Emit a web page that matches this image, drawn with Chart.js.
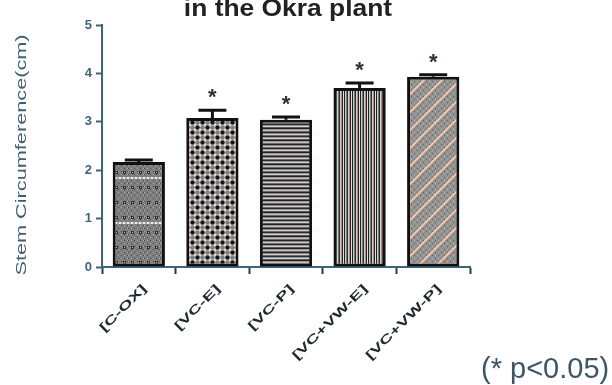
<!DOCTYPE html>
<html>
<head>
<meta charset="utf-8">
<script src="https://cdn.jsdelivr.net/npm/chart.js@4.4.0/dist/chart.umd.min.js"></script>
<style>
  html, body { margin: 0; padding: 0; background: #fff; }
  #wrap { width: 612px; height: 385px; }
</style>
</head>
<body>
<div id="wrap"><canvas id="stemChart" width="612" height="385"></canvas></div>
<script>
const categories = ['[C-OX]', '[VC-E]', '[VC-P]', '[VC+VW-E]', '[VC+VW-P]'];
const means = [2.17, 3.08, 3.04, 3.70, 3.93];
const errors = [0.04, 0.16, 0.06, 0.10, 0.04];
const marks = ['', '*', '*', '*', '*'];
const yTicks = [0, 1, 2, 3, 4, 5];

const titleText = 'in the Okra plant';
const yTitle = 'Stem Circumference(cm)';
const footnote = '(* p<0.05)';

const axisColor = '#3d6478';

// small helper: paint a tile and turn it into a repeating fill
function tile(w, h, paint) {
    const c = document.createElement('canvas');
    c.width = w;
    c.height = h;
    const g = c.getContext('2d');
    paint(g);
    return g.createPattern(c, 'repeat');
}

// grey dotted fill with a pale band every 45px
const fillDots = tile(16, 45, g => {
    g.fillStyle = '#7e7e7e';
    g.fillRect(0, 0, 16, 45);
    for (let y = 0; y < 45; y += 3) {
        for (let x = 0; x < 16; x += 3) {
            g.fillStyle = (x + y) % 2 ? '#4a4a4a' : '#a9a9a9';
            g.fillRect(x, y, 1, 1);
        }
    }
    [7, 22, 37].forEach(cy => {
        [4, 12].forEach(cx => {
            g.fillStyle = '#2e2e2e';
            g.fillRect(cx - 1, cy - 1, 3, 3);
            g.fillStyle = '#d9c2b6';
            g.fillRect(cx, cy, 1, 1);
        });
    });
    g.fillStyle = '#f1ece8';
    g.fillRect(0, 42, 16, 2);
    g.fillStyle = '#a9a9a9';
    for (let x = 1; x < 16; x += 4) g.fillRect(x, 42, 2, 2);
});

// checker of dark and blue-grey dots
const fillChecker = tile(10, 10, g => {
    g.fillStyle = '#eed6ca';
    g.fillRect(0, 0, 10, 10);
    const dot = (x, y, col) => {
        g.fillStyle = col;
        g.beginPath();
        g.arc(x, y, 2.2, 0, Math.PI * 2);
        g.fill();
    };
    dot(2.5, 2.5, '#151515');
    dot(7.5, 7.5, '#151515');
    dot(7.5, 2.5, '#6f808a');
    dot(2.5, 7.5, '#6f808a');
});

// horizontal stripes
const fillHStripes = tile(4, 12, g => {
    const rows = ['#222222', '#7d8b93', '#e9c0ad', '#5f6d76', '#2a2a2a', '#8a969d',
        '#e6cdbf', '#4f5c64', '#1f1f1f', '#939fa5', '#dcb6a4', '#5f6d76'];
    rows.forEach((c, i) => {
        g.fillStyle = c;
        g.fillRect(0, i, 4, 1);
    });
});

// vertical stripes
const fillVStripes = tile(8, 4, g => {
    const cols = ['#1e1e1e', '#f0bfa8', '#6d7f89', '#2b2b2b', '#e9c9b9', '#8b9ba4', '#222222', '#f6dccf'];
    cols.forEach((c, i) => {
        g.fillStyle = c;
        g.fillRect(i, 0, 1, 4);
    });
});

// grey dots crossed by pale diagonals
const fillDiag = tile(18, 18, g => {
    g.fillStyle = '#929292';
    g.fillRect(0, 0, 18, 18);
    for (let y = 0; y < 18; y += 3) {
        for (let x = 0; x < 18; x += 3) {
            g.fillStyle = (x + y) % 2 ? '#5e5e5e' : '#c2b8b3';
            g.fillRect(x, y, 1, 1);
        }
    }
    g.strokeStyle = '#f3c4ad';
    g.lineWidth = 2;
    [[0, 18, 18, 0], [-9, 9, 9, -9], [9, 27, 27, 9]].forEach(([x1, y1, x2, y2]) => {
        g.beginPath();
        g.moveTo(x1, y1);
        g.lineTo(x2, y2);
        g.stroke();
    });
});

const barFills = [fillDots, fillChecker, fillHStripes, fillVStripes, fillDiag];

// text is drawn stretched along its own direction
function stretchedText(ctx, text, x, y, angle, sx, font, color, align, baseline) {
    ctx.save();
    ctx.translate(x, y);
    ctx.rotate(angle);
    ctx.scale(sx, 1);
    ctx.font = font;
    ctx.fillStyle = color;
    ctx.textAlign = align;
    ctx.textBaseline = baseline;
    ctx.fillText(text, 0, 0);
    ctx.restore();
}

const extras = {
    id: 'extras',
    afterDatasetsDraw(chart) {
        const ctx = chart.ctx;
        const x = chart.scales.x;
        const y = chart.scales.y;
        const meta = chart.getDatasetMeta(0);

        // error bars and significance marks
        ctx.save();
        ctx.strokeStyle = '#111';
        ctx.lineWidth = 3;
        meta.data.forEach((bar, i) => {
            const top = y.getPixelForValue(means[i]);
            const cap = y.getPixelForValue(means[i] + errors[i]);
            ctx.beginPath();
            ctx.moveTo(bar.x, top);
            ctx.lineTo(bar.x, cap);
            ctx.moveTo(bar.x - 14, cap);
            ctx.lineTo(bar.x + 14, cap);
            ctx.stroke();
            if (marks[i]) {
                ctx.font = 'bold 22px "Liberation Sans", Arial, sans-serif';
                ctx.fillStyle = '#2a3338';
                ctx.textAlign = 'center';
                ctx.textBaseline = 'middle';
                ctx.fillText(marks[i], bar.x, cap - 12);
            }
        });
        ctx.restore();

        // category labels
        categories.forEach((c, i) => {
            const px = x.getPixelForTick(i);
            stretchedText(ctx, c, px + 6, y.bottom + 20, -Math.PI / 4, 1.6,
                'bold 12px "Liberation Sans", Arial, sans-serif', '#1f2a30', 'right', 'middle');
        });
    },
    afterDraw(chart) {
        const ctx = chart.ctx;
        const y = chart.scales.y;

        stretchedText(ctx, titleText, 288, 16, 0, 1.1,
            'bold 24px "Liberation Sans", Arial, sans-serif', '#222', 'center', 'alphabetic');

        stretchedText(ctx, yTitle, 22, 155, -Math.PI / 2, 1.55,
            '14px "Liberation Sans", Arial, sans-serif', '#3f5f70', 'center', 'middle');

        ctx.save();
        ctx.font = '29px "Liberation Sans", Arial, sans-serif';
        ctx.fillStyle = '#3c5666';
        ctx.textAlign = 'left';
        ctx.textBaseline = 'alphabetic';
        ctx.fillText(footnote, 481, 378);
        ctx.restore();
    }
};

const ctx = document.getElementById('stemChart').getContext('2d');

const stemChart = new Chart(ctx, {
    type: 'bar',
    data: {
        labels: categories,
        datasets: [{
            data: means,
            backgroundColor: barFills,
            borderColor: '#111',
            borderWidth: 3,
            borderSkipped: false,
            categoryPercentage: 1,
            barPercentage: 0.71
        }]
    },
    options: {
        responsive: false,
        devicePixelRatio: 1,
        animation: false,
        layout: {
            padding: { top: 25, right: 142, left: 0, bottom: 0 }
        },
        plugins: {
            legend: { display: false },
            title: { display: false },
            tooltip: { enabled: false }
        },
        scales: {
            y: {
                min: 0,
                max: 5,
                afterFit: (scale) => { scale.width = 102; },
                afterBuildTicks: (scale) => {
                    scale.ticks = yTicks.map(v => ({ value: v }));
                },
                ticks: {
                    color: axisColor,
                    padding: 4,
                    font: { family: '"Liberation Sans", Arial, sans-serif', size: 13, weight: 'bold' }
                },
                grid: {
                    drawOnChartArea: false,
                    tickLength: 6,
                    tickWidth: 2,
                    tickColor: axisColor
                },
                border: { color: axisColor, width: 2 }
            },
            x: {
                afterFit: (scale) => { scale.height = 385 - 267; },
                ticks: { display: false },
                grid: {
                    drawOnChartArea: false,
                    tickLength: 7,
                    tickWidth: 2,
                    tickColor: '#2b3a42'
                },
                border: { color: axisColor, width: 2 }
            }
        }
    },
    plugins: [extras]
});
</script>
</body>
</html>
